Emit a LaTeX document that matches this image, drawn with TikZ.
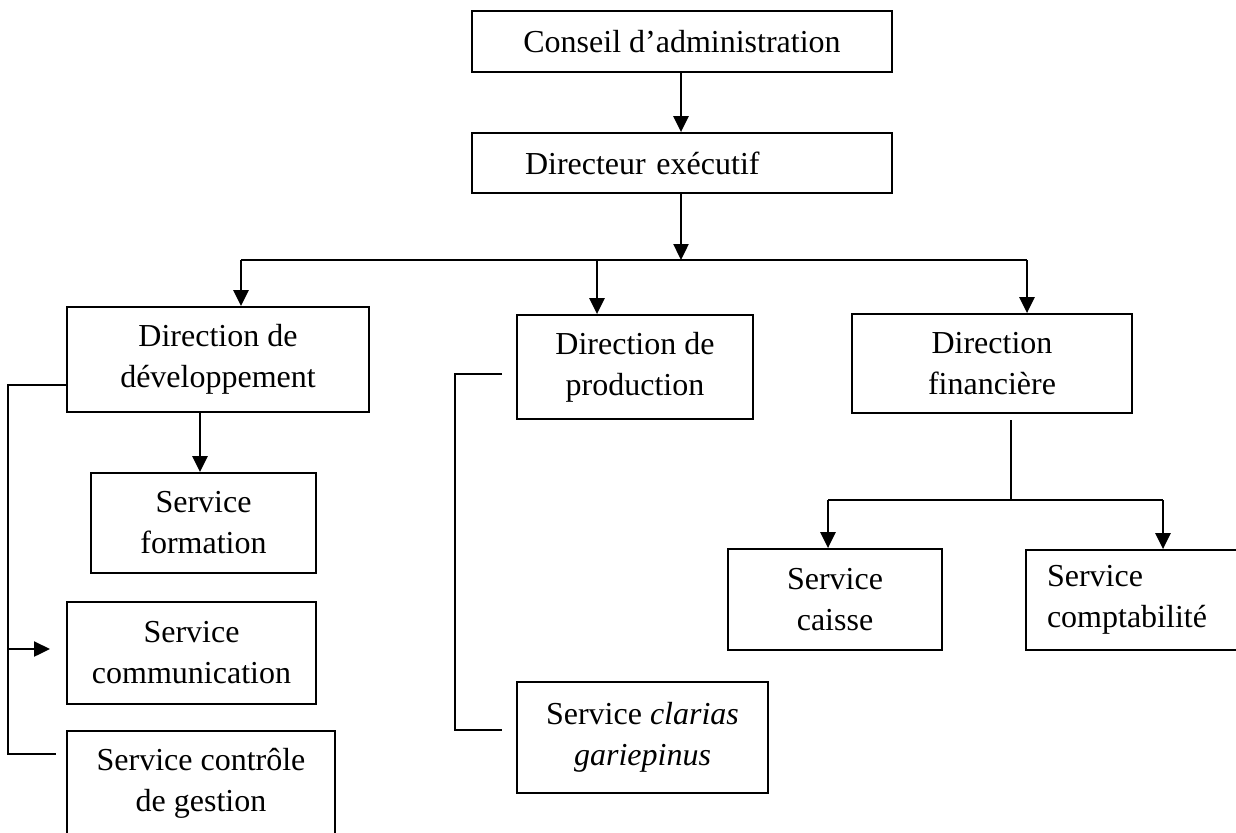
\documentclass[tikz,border=0pt]{standalone}
\usepackage{fontspec}
\setmainfont{Liberation Serif}
\usetikzlibrary{arrows.meta}
\begin{document}
\begin{tikzpicture}[x=0.5pt,y=-0.5pt,
  box/.style={draw, line width=0.9pt, inner sep=0pt, align=center,
              font=\fontsize{16}{20.5}\selectfont},
  conn/.style={line width=1.2pt},
  arr/.style={conn, -{Triangle[length=8pt,width=7.5pt]}}]
\useasboundingbox (0,0) rectangle (1236,832);

% boxes
\node[box, minimum width=210pt, minimum height=30.5pt] (conseil) at (682,41.5) {Conseil d’administration};
\node[box, minimum width=210pt, minimum height=30pt, text width=157pt, inner xsep=26.5pt, align=left] (directeur) at (682,163) {Directeur exécutif};
\node[box, minimum width=151pt, minimum height=52.5pt] (dirdev) at (218,359.5) {Direction de\\développement};
\node[box, minimum width=118pt, minimum height=52pt] (dirprod) at (635,367) {Direction de\\production};
\node[box, minimum width=140pt, minimum height=49.5pt] (dirfin) at (992,363.5) {Direction\\financière};
\node[box, minimum width=112.5pt, minimum height=50pt] (formation) at (203.5,523) {Service\\formation};
\node[box, minimum width=124.5pt, minimum height=51pt] (communication) at (191.5,653) {Service\\communication};
\node[box, minimum width=134pt, minimum height=52pt] (controle) at (201,783) {Service contrôle\\de gestion};
\node[box, minimum width=125.5pt, minimum height=55.5pt] (clarias) at (642.5,737.5) {Service \textit{clarias}\\\textit{gariepinus}};
\node[box, minimum width=107pt, minimum height=50.5pt] (caisse) at (835,599.5) {Service\\caisse};
\node[box, minimum width=112pt, minimum height=50pt, text width=91pt, inner xsep=10.5pt, align=left] (compta) at (1138,600) {Service\\comptabilité};

% helper coordinates
\coordinate (bJ) at (681,260);
\coordinate (bL) at (241,260);
\coordinate (bM) at (597,260);
\coordinate (bR) at (1027,260);
\coordinate (fx) at (200,0);
\coordinate (lb1) at (8,385);
\coordinate (lb2) at (8,754);
\coordinate (lb3) at (56,754);
\coordinate (lc) at (8,649);
\coordinate (lcEnd) at (50,649);
\coordinate (pb1) at (502,374);
\coordinate (pb2) at (455,374);
\coordinate (pb3) at (455,730);
\coordinate (pb4) at (502,730);
\coordinate (fTop) at (1011,420);
\coordinate (fJ) at (1011,500);
\coordinate (fL) at (828,500);
\coordinate (fR) at (1163,500);

% connectors
\draw[arr] (conseil.south -| bJ) -- (directeur.north -| bJ);
\draw[arr] (directeur.south -| bJ) -- (bJ);
\draw[conn] (bL) -- (bR);
\draw[arr] (bL) -- (bL |- dirdev.north);
\draw[arr] (bM) -- (bM |- dirprod.north);
\draw[arr] (bR) -- (bR |- dirfin.north);

\draw[arr] (dirdev.south -| fx) -- (formation.north -| fx);
\draw[conn] (dirdev.west |- lb1) -- (lb1) -- (lb2) -- (lb3);
\draw[arr] (lc) -- (lcEnd);

\draw[conn] (pb1) -- (pb2) -- (pb3) -- (pb4);

\draw[conn] (fTop) -- (fJ);
\draw[conn] (fL) -- (fR);
\draw[arr] (fL) -- (fL |- caisse.north);
\draw[arr] (fR) -- (fR |- compta.north);
\end{tikzpicture}
\end{document}
